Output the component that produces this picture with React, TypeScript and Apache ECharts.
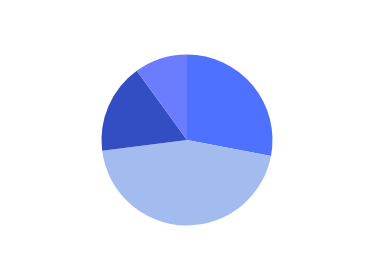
import React, { useEffect, useRef } from "react";
import * as echarts from "echarts";

const categories = ["A", "B", "C", "D"];
const values = [28, 45, 17, 10];
const colors = ["#4e72ff", "#a3bcf0", "#334dc2", "#6b7dfe"];

export default function App() {
  const ref = useRef<HTMLDivElement>(null);
  useEffect(() => {
    document.body.style.margin = "0";
    const chart = echarts.init(ref.current!, null, { renderer: "svg" });
    chart.setOption({
      animation: false,
      color: colors,
      series: [
        {
          type: "pie",
          radius: 85.5,
          center: [187, 140],
          startAngle: 90,
          clockwise: true,
          label: { show: false },
          labelLine: { show: false },
          itemStyle: { borderWidth: 0 },
          data: categories.map((name, i) => ({ name, value: values[i] })),
        },
      ],
    });
    return () => chart.dispose();
  }, []);
  return (
    <div
      ref={ref}
      style={{ position: "fixed", left: 0, top: 0, width: 375, height: 278, background: "#fff" }}
    />
  );
}
